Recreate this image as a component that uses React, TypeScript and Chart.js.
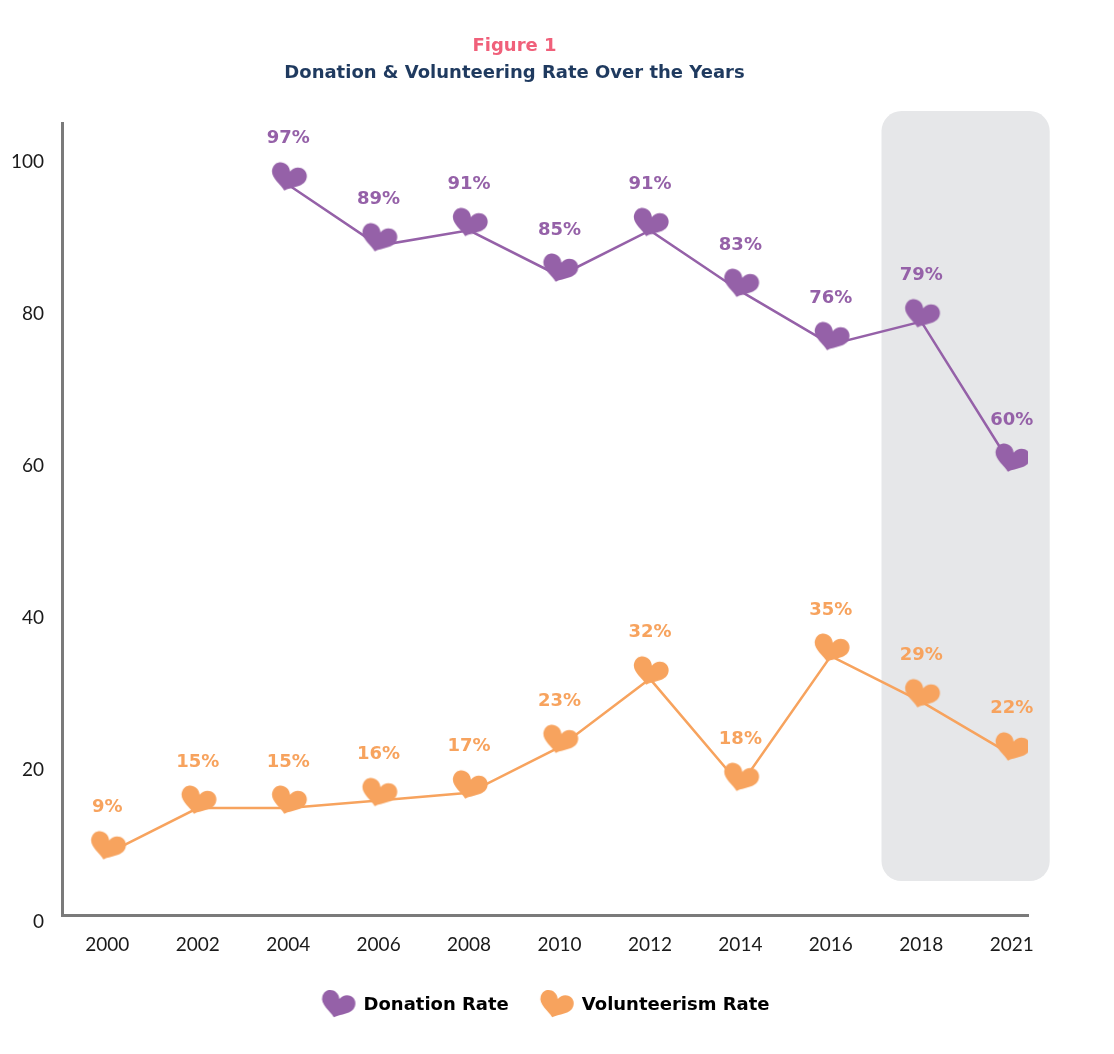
import React, { useEffect, useRef } from 'react';
import { Chart, registerables } from 'chart.js';

Chart.register(...registerables);

const years = ['2000', '2002', '2004', '2006', '2008', '2010', '2012', '2014', '2016', '2018', '2021'];
const donationRate = [null, null, 97, 89, 91, 85, 91, 83, 76, 79, 60];
const volunteerRate = [9, 15, 15, 16, 17, 23, 32, 18, 35, 29, 22];
const yTicks = [0, 20, 40, 60, 80, 100];

const PURPLE = '#9561a8';
const ORANGE = '#f7a35e';
const TICK_FONT = 'Lato, "Open Sans", sans-serif';
const BOLD_FONT = '"DejaVu Sans", sans-serif';

// shaded box behind the last two surveys (in scale units)
const HIGHLIGHT = { x0: 8.56, x1: 10.42, y0: 5.4, y1: 106.7, radius: 20, color: '#e6e7e9' };

function makeHeart(color: string, size: number, lift: number) {
  const c = document.createElement('canvas');
  c.width = size;
  c.height = size;
  const ctx = c.getContext('2d')!;
  const w = size * 0.74;
  const h = size * 0.56;
  ctx.translate(size / 2, size / 2 - lift);
  ctx.rotate((17 * Math.PI) / 180);
  ctx.beginPath();
  ctx.moveTo(0, -h * 0.24);
  ctx.bezierCurveTo(-w * 0.1, -h * 0.6, -w * 0.5, -h * 0.56, -w * 0.5, -h * 0.15);
  ctx.bezierCurveTo(-w * 0.5, h * 0.18, -w * 0.15, h * 0.3, 0, h * 0.5);
  ctx.bezierCurveTo(w * 0.15, h * 0.3, w * 0.5, h * 0.18, w * 0.5, -h * 0.15);
  ctx.bezierCurveTo(w * 0.5, -h * 0.56, w * 0.1, -h * 0.6, 0, -h * 0.24);
  ctx.closePath();
  ctx.fillStyle = color;
  ctx.fill();
  return c;
}

const highlightPlugin = {
  id: 'highlightBox',
  beforeDatasetsDraw(chart: any) {
    const { ctx, scales } = chart;
    const left = scales.x.getPixelForValue(HIGHLIGHT.x0);
    const right = scales.x.getPixelForValue(HIGHLIGHT.x1);
    const top = scales.y.getPixelForValue(HIGHLIGHT.y1);
    const bottom = scales.y.getPixelForValue(HIGHLIGHT.y0);
    ctx.save();
    ctx.fillStyle = HIGHLIGHT.color;
    ctx.beginPath();
    ctx.roundRect(left, top, right - left, bottom - top, HIGHLIGHT.radius);
    ctx.fill();
    ctx.restore();
  },
};

const seriesValues = [donationRate, volunteerRate];

const valueLabelPlugin = {
  id: 'valueLabels',
  afterDatasetsDraw(chart: any) {
    const { ctx } = chart;
    ctx.save();
    ctx.font = `bold 18px ${BOLD_FONT}`;
    ctx.textAlign = 'center';
    ctx.textBaseline = 'middle';
    chart.data.datasets.forEach((ds: any, i: number) => {
      const meta = chart.getDatasetMeta(i);
      ctx.fillStyle = ds.borderColor;
      meta.data.forEach((pt: any, j: number) => {
        const v = seriesValues[i][j];
        if (v == null) return;
        ctx.fillText(`${v}%`, pt.x, pt.y - 46);
      });
    });
    ctx.restore();
  },
};

export default function App() {
  const canvasRef = useRef<HTMLCanvasElement>(null);

  useEffect(() => {
    document.body.style.margin = '0';
    if (!canvasRef.current) return;

    const purpleHeart = makeHeart(PURPLE, 48, 7);
    const orangeHeart = makeHeart(ORANGE, 48, 7);
    const purpleLegend = makeHeart(PURPLE, 46, 0);
    const orangeLegend = makeHeart(ORANGE, 46, 0);

    const chart = new Chart(canvasRef.current, {
      type: 'line',
      data: {
        datasets: [
          {
            label: 'Donation Rate',
            data: donationRate.map((v, i) => ({ x: i, y: v })) as any,
            borderColor: PURPLE,
            backgroundColor: PURPLE,
            borderWidth: 2.5,
            pointStyle: purpleHeart,
          },
          {
            label: 'Volunteerism Rate',
            data: volunteerRate.map((v, i) => ({ x: i, y: v })),
            borderColor: ORANGE,
            backgroundColor: ORANGE,
            borderWidth: 2.5,
            pointStyle: orangeHeart,
          },
        ],
      },
      options: {
        responsive: false,
        animation: false,
        layout: { padding: { left: 1, right: 86, bottom: 30 } },
        scales: {
          x: {
            type: 'linear',
            min: -0.5,
            max: 10.18,
            grid: { display: false },
            border: { color: '#7a7a7a', width: 3 },
            afterBuildTicks: (scale: any) => {
              scale.ticks = years.map((_, i) => ({ value: i }));
            },
            ticks: {
              color: '#1a1a1a',
              font: { family: TICK_FONT, size: 19 },
              padding: 10,
              maxRotation: 0,
              autoSkip: false,
              callback: (v: any) => years[v],
            },
          },
          y: {
            min: 0.9,
            max: 105.1,
            grid: { display: false },
            border: { color: '#7a7a7a', width: 3 },
            afterBuildTicks: (scale: any) => {
              scale.ticks = yTicks.map((v) => ({ value: v }));
            },
            ticks: {
              color: '#1a1a1a',
              font: { family: TICK_FONT, size: 19 },
              padding: 10,
            },
          },
        },
        plugins: {
          title: {
            display: true,
            text: 'Figure 1',
            color: '#f0607a',
            font: { family: BOLD_FONT, size: 18, weight: 'bold' },
            padding: { top: 36, bottom: 5 },
          },
          subtitle: {
            display: true,
            text: 'Donation & Volunteering Rate Over the Years',
            color: '#1f3a5f',
            font: { family: BOLD_FONT, size: 18, weight: 'bold' },
            padding: { bottom: 39 },
          },
          legend: {
            position: 'bottom',
            fullSize: false,
            labels: {
              usePointStyle: true,
              pointStyleWidth: 34,
              generateLabels: (c: any) =>
                c.data.datasets.map((ds: any, i: number) => ({
                  text: ds.label,
                  pointStyle: i === 0 ? purpleLegend : orangeLegend,
                  fillStyle: ds.borderColor,
                  strokeStyle: ds.borderColor,
                  lineWidth: 0,
                  datasetIndex: i,
                  fontColor: '#000',
                })),
              color: '#000',
              font: { family: BOLD_FONT, size: 18, weight: 'bold' },
              padding: 30,
            },
          },
          tooltip: { enabled: false },
        },
      },
      plugins: [highlightPlugin, valueLabelPlugin],
    });

    return () => chart.destroy();
  }, []);

  return <canvas ref={canvasRef} width={1114} height={1054} style={{ display: 'block' }} />;
}
